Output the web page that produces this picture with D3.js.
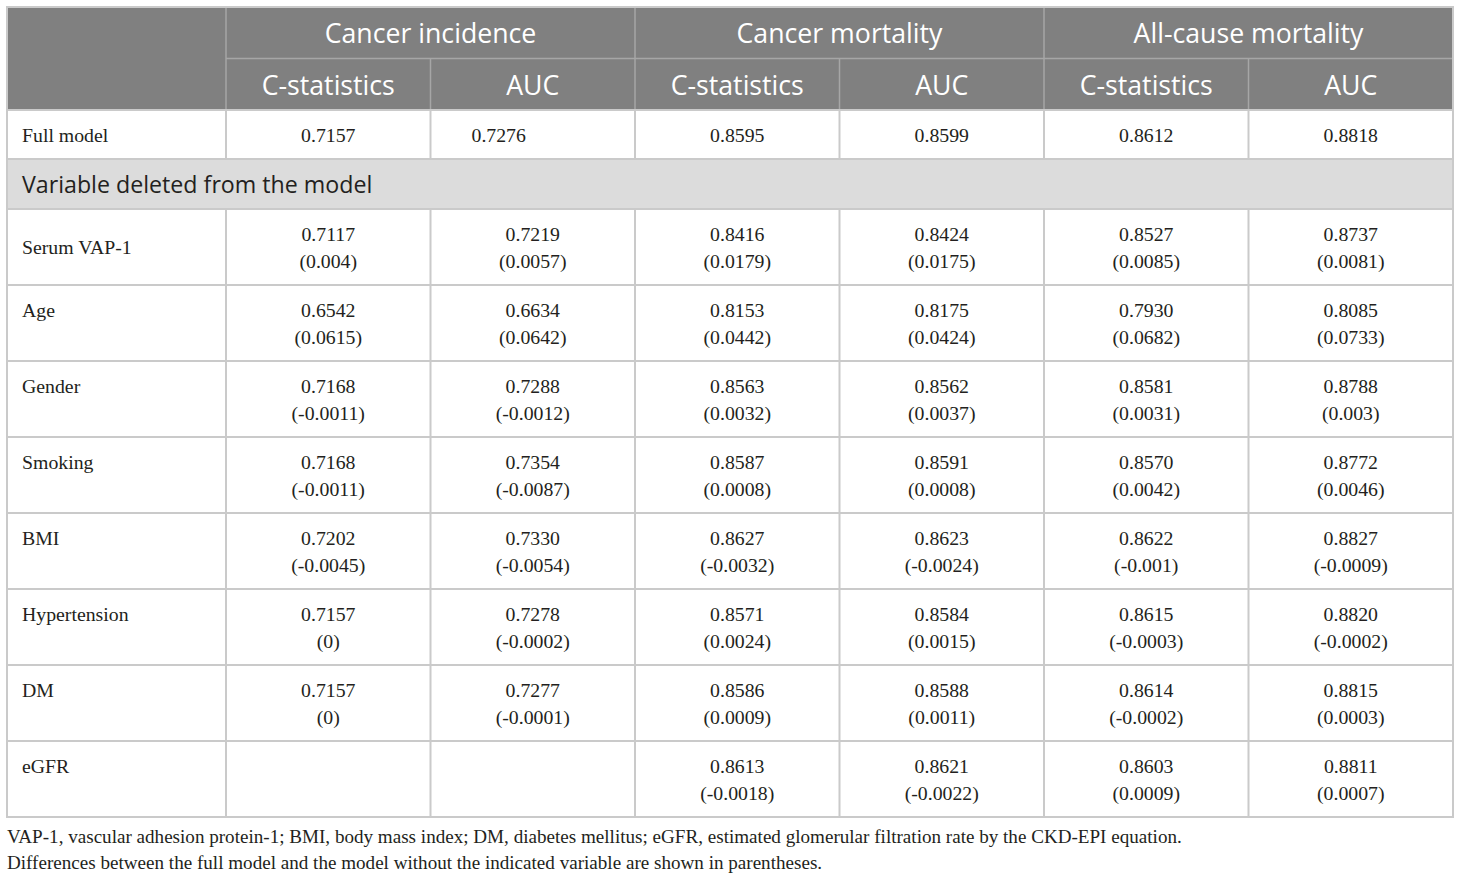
<!DOCTYPE html>
<html>
<head>
<meta charset="utf-8">
<script src="https://cdn.jsdelivr.net/npm/d3@7"></script>
<style>
  body { margin: 0; background: #fff; }
  svg { display: block; }
</style>
</head>
<body>
<svg id="table"></svg>
<script>
const groups = ["Cancer incidence", "Cancer mortality", "All-cause mortality"];
const metrics = ["C-statistics", "AUC"];
const fullModel = ["0.7157", "0.7276", "0.8595", "0.8599", "0.8612", "0.8818"];
const sectionTitle = "Variable deleted from the model";
const variables = ["Serum VAP-1", "Age", "Gender", "Smoking", "BMI", "Hypertension", "DM", "eGFR"];
const stats = [
  ["0.7117", "0.7219", "0.8416", "0.8424", "0.8527", "0.8737"],
  ["0.6542", "0.6634", "0.8153", "0.8175", "0.7930", "0.8085"],
  ["0.7168", "0.7288", "0.8563", "0.8562", "0.8581", "0.8788"],
  ["0.7168", "0.7354", "0.8587", "0.8591", "0.8570", "0.8772"],
  ["0.7202", "0.7330", "0.8627", "0.8623", "0.8622", "0.8827"],
  ["0.7157", "0.7278", "0.8571", "0.8584", "0.8615", "0.8820"],
  ["0.7157", "0.7277", "0.8586", "0.8588", "0.8614", "0.8815"],
  ["", "", "0.8613", "0.8621", "0.8603", "0.8811"]
];
const diffs = [
  ["0.004", "0.0057", "0.0179", "0.0175", "0.0085", "0.0081"],
  ["0.0615", "0.0642", "0.0442", "0.0424", "0.0682", "0.0733"],
  ["-0.0011", "-0.0012", "0.0032", "0.0037", "0.0031", "0.003"],
  ["-0.0011", "-0.0087", "0.0008", "0.0008", "0.0042", "0.0046"],
  ["-0.0045", "-0.0054", "-0.0032", "-0.0024", "-0.001", "-0.0009"],
  ["0", "-0.0002", "0.0024", "0.0015", "-0.0003", "-0.0002"],
  ["0", "-0.0001", "0.0009", "0.0011", "-0.0002", "0.0003"],
  ["", "", "-0.0018", "-0.0022", "0.0009", "0.0007"]
];
const footnotes = [
  "VAP-1, vascular adhesion protein-1; BMI, body mass index; DM, diabetes mellitus; eGFR, estimated glomerular filtration rate by the CKD-EPI equation.",
  "Differences between the full model and the model without the indicated variable are shown in parentheses."
];

const W = 1460, H = 879;
const tLeft = 7, tRight = 1453, firstColRight = 226, tTop = 7;
const headH = 51.5, fullH = 49, sectH = 50, rowH = 76;
const serif = "'Liberation Serif', 'Times New Roman', serif";
const sans = "'Open Sans', 'Noto Sans', sans-serif";

const svg = d3.select("#table").attr("width", W).attr("height", H);

// data columns: six equal columns after the label column
const x = d3.scaleLinear().domain([0, metrics.length * groups.length]).range([firstColRight, tRight]);
const colW = x(1) - x(0);

const yHead2 = tTop + headH;
const yFull = tTop + 2 * headH;
const ySect = yFull + fullH;
const yRows = ySect + sectH;
const y = d3.scaleLinear().domain([0, variables.length]).range([yRows, yRows + rowH * variables.length]);
const tBottom = y(variables.length);

// backgrounds
svg.append("rect").attr("x", tLeft).attr("y", tTop).attr("width", tRight - tLeft).attr("height", 2 * headH)
  .attr("fill", "#808080");
svg.append("rect").attr("x", tLeft).attr("y", ySect).attr("width", tRight - tLeft).attr("height", sectH)
  .attr("fill", "#dcdcdc");

// header grid lines
const hg = svg.append("g").attr("stroke", "#a6a6a6").attr("stroke-width", 1.5);
hg.selectAll("line.gv").data(d3.range(0, 7, 2)).join("line")
  .attr("x1", d => x(d)).attr("x2", d => x(d)).attr("y1", tTop).attr("y2", yFull);
hg.selectAll("line.sv").data(d3.range(1, 6, 2)).join("line")
  .attr("x1", d => x(d)).attr("x2", d => x(d)).attr("y1", yHead2).attr("y2", yFull);
hg.append("line").attr("x1", firstColRight).attr("x2", tRight).attr("y1", yHead2).attr("y2", yHead2);

// body grid lines
const bg = svg.append("g").attr("stroke", "#cacaca").attr("stroke-width", 2).attr("fill", "none");
bg.selectAll("line.h").data([yFull, ySect, yRows].concat(d3.range(1, variables.length + 1).map(y))).join("line")
  .attr("x1", tLeft).attr("x2", tRight).attr("y1", d => d).attr("y2", d => d);
bg.selectAll("line.v").data(d3.range(0, 7)).join("line")
  .attr("x1", d => x(d)).attr("x2", d => x(d)).attr("y1", yFull).attr("y2", ySect);
bg.selectAll("line.v2").data(d3.range(0, 7)).join("line")
  .attr("x1", d => x(d)).attr("x2", d => x(d)).attr("y1", yRows).attr("y2", tBottom);
bg.append("rect").attr("x", tLeft).attr("y", tTop).attr("width", tRight - tLeft).attr("height", tBottom - tTop);

// header text
svg.append("g").selectAll("text").data(groups).join("text")
  .attr("x", (d, i) => x(i * 2 + 1)).attr("y", tTop + headH / 2)
  .attr("text-anchor", "middle").attr("dominant-baseline", "central")
  .attr("font-family", sans).attr("font-size", 26.7).attr("fill", "#fff")
  .text(d => d);
svg.append("g").selectAll("text").data(d3.range(6)).join("text")
  .attr("x", d => x(d) + colW / 2).attr("y", yHead2 + headH / 2)
  .attr("text-anchor", "middle").attr("dominant-baseline", "central")
  .attr("font-family", sans).attr("font-size", 26.7).attr("fill", "#fff")
  .text(d => metrics[d % 2]);

// full model row
const body = svg.append("g").attr("font-family", serif).attr("font-size", 19.8).attr("fill", "#231f20");
body.append("text").attr("x", tLeft + 15).attr("y", yFull + fullH / 2).attr("dominant-baseline", "central")
  .text("Full model");
body.selectAll("text.full").data(fullModel).join("text").attr("class", "full")
  // the AUC value of the first group sits left of centre in the source
  .attr("x", (d, i) => i === 1 ? x(i) + 41 : x(i) + colW / 2)
  .attr("text-anchor", (d, i) => i === 1 ? "start" : "middle")
  .attr("y", yFull + fullH / 2).attr("dominant-baseline", "central")
  .text(d => d);

// section row
svg.append("text").attr("x", tLeft + 15).attr("y", ySect + sectH / 2).attr("dominant-baseline", "central")
  .attr("font-family", sans).attr("font-size", 23.2).attr("fill", "#231f20")
  .text(sectionTitle);

// variable rows
body.selectAll("text.var").data(variables).join("text").attr("class", "var")
  .attr("x", tLeft + 15)
  .attr("y", (d, i) => i === 0 ? y(i) + rowH / 2 : y(i) + 25)
  .attr("dominant-baseline", "central")
  .text(d => d);

const cells = [];
variables.forEach((v, r) => stats[r].forEach((s, c) => {
  if (s) cells.push({ r, c, s, d: diffs[r][c] });
}));
const cg = body.selectAll("g.cell").data(cells).join("g").attr("class", "cell");
cg.append("text").attr("x", d => x(d.c) + colW / 2).attr("y", d => y(d.r) + 25)
  .attr("text-anchor", "middle").attr("dominant-baseline", "central").text(d => d.s);
cg.append("text").attr("x", d => x(d.c) + colW / 2).attr("y", d => y(d.r) + 52)
  .attr("text-anchor", "middle").attr("dominant-baseline", "central").text(d => `(${d.d})`);

// footnotes
svg.append("g").selectAll("text").data(footnotes).join("text")
  .attr("x", tLeft).attr("y", (d, i) => tBottom + 19 + i * 26)
  .attr("dominant-baseline", "central")
  .attr("font-family", serif).attr("font-size", 19.1).attr("fill", "#231f20")
  .text(d => d);
</script>
</body>
</html>
